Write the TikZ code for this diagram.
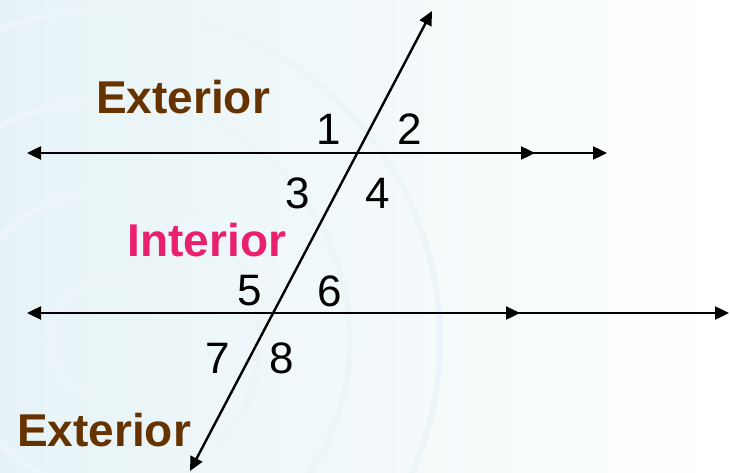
\documentclass[tikz,border=0pt]{standalone}
\usepackage{fontspec}
\setmainfont{Liberation Sans}
\usepackage{xcolor}
\usetikzlibrary{arrows.meta}
\definecolor{extbrown}{RGB}{102,51,0}
\definecolor{intpink}{RGB}{234,32,110}
\definecolor{bgblue}{RGB}{230,243,246}

\begin{document}
\begin{tikzpicture}[x=1pt,y=-1pt,
  every node/.style={inner sep=0pt},
  ray/.style={line width=2.4pt,{Triangle[length=14pt,width=13pt]}-{Triangle[length=14pt,width=13pt]}},
  halfray/.style={line width=2.4pt,-{Triangle[length=14pt,width=13pt]}},
  anglenum/.style={font=\fontsize{44}{48}\selectfont},
  region/.style={font=\fontsize{46}{50}\selectfont\bfseries}]
\useasboundingbox (0,0) rectangle (730,473);
\shade [left color=bgblue,right color=white] (0,0) rectangle (730,473);
\foreach\rad in {60,150,240,330}
  \draw [white!25!bgblue, line width=6pt] (110,340) circle (\rad);
% the two parallel lines and the transversal
\coordinate (topl) at (27,153);
\coordinate (topr) at (607,153);
\coordinate (topm1) at (475,153);
\coordinate (topm2) at (535,153);
\coordinate (botl) at (27,313);
\coordinate (botr) at (729,313);
\coordinate (botm1) at (458,313);
\coordinate (botm2) at (520,313);
\coordinate (trb) at (190,471);
\coordinate (trt) at (432,11);
\draw [ray] (topl) -- (topr);
\draw [halfray] (topm1) -- (topm2);
\draw [ray] (botl) -- (botr);
\draw [halfray] (botm1) -- (botm2);
\draw [ray] (trb) -- (trt);
% angle numbers
\foreach \n/\x/\y in {1/329/129, 2/410/129, 3/298/193, 4/378/193,
                      5/250/291, 6/330/291, 7/218/358, 8/282/358}
  \node [anglenum] (ang\n) at (\x,\y) {\n};
\node [region, text=extbrown] (extup) at (183,97) {Exterior};
\node [region, text=intpink] (inter) at (207,240) {Interior};
\node [region, text=extbrown] (extdown) at (104,430) {Exterior};
\end{tikzpicture}
\end{document}
